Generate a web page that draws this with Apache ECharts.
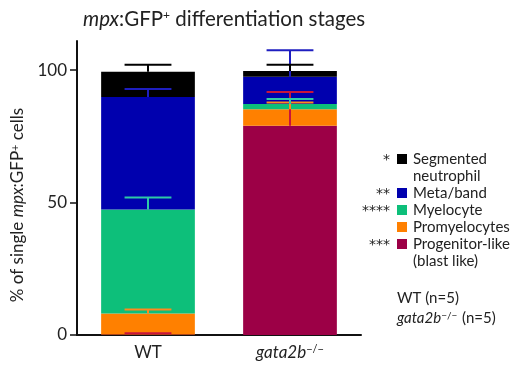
<!DOCTYPE html>
<html>
<head>
<meta charset="utf-8">
<script src="https://cdn.jsdelivr.net/npm/echarts@6/dist/echarts.min.js"></script>
<style>
  html, body { margin: 0; padding: 0; background: #fff; }
  #chart { width: 520px; height: 368px; }
</style>
</head>
<body>
<div id="chart"></div>
<script>
"use strict";

// groups on the x axis
const categories = ['WT', 'gata2b'];
// stages, bottom of the stack first
const stages = ['Progenitor-like', 'Promyelocytes', 'Myelocyte', 'Meta/band', 'Segmented neutrophil'];
const stageColors = ['#9C0046', '#FF8000', '#0DBF7A', '#0000AE', '#000000'];
const errColors = ['#C8143C', '#FF8A1E', '#2EC9A6', '#1E1EC0', '#000000'];
// mean % per stage (same order as stages)
const wtValues = [0.2, 7.9, 39.3, 42.5, 9.5];
const gataValues = [79.0, 6.2, 2.0, 10.3, 2.2];
// upper error (SD) per stage
const wtErrors = [0.5, 1.5, 4.5, 3.0, 2.6];
const gataErrors = [12.7, 2.6, 1.9, 10.0, 2.3];
const yTicks = [0, 50, 100];

// legend text, top to bottom
const legendRows = [
    { stage: 4, star: '*', lines: ['Segmented', 'neutrophil'] },
    { stage: 3, star: '**', lines: ['Meta/band'] },
    { stage: 2, star: '****', lines: ['Myelocyte'] },
    { stage: 1, star: '', lines: ['Promyelocytes'] },
    { stage: 0, star: '***', lines: ['Progenitor-like', '(blast like)'] }
];

const font = 'Lato, "DejaVu Sans", sans-serif';

let chart = echarts.init(document.getElementById('chart'));

// stacked tops for the error bars
let tops = [[], []];
let wtSum = 0, gataSum = 0;
for (let i = 0; i < stages.length; i++) {
    wtSum += wtValues[i];
    gataSum += gataValues[i];
    tops[0].push(wtSum);
    tops[1].push(gataSum);
}

let series = [];
stages.forEach((name, i) => {
    series.push({
        name: name,
        type: 'bar',
        stack: 'total',
        barWidth: '66%',
        itemStyle: { color: stageColors[i] },
        data: [wtValues[i], gataValues[i]],
        z: 2
    });
});
stages.forEach((name, i) => {
    series.push({
        name: name + ' SD',
        type: 'custom',
        z: 5,
        encode: { x: 0, y: 1 },
        data: [[0, tops[0][i], wtErrors[i]], [1, tops[1][i], gataErrors[i]]],
        renderItem: (params, api) => {
            const x = api.value(0), top = api.value(1), err = api.value(2);
            const p0 = api.coord([x, top]);
            const p1 = api.coord([x, top + err]);
            const half = api.size([1, 0])[0] * 0.165;
            const style = { stroke: errColors[i], lineWidth: 2 };
            return {
                type: 'group',
                children: [
                    { type: 'line', shape: { x1: p0[0], y1: p0[1], x2: p1[0], y2: p1[1] }, style: style },
                    { type: 'line', shape: { x1: p1[0] - half, y1: p1[1], x2: p1[0] + half, y2: p1[1] }, style: style }
                ]
            };
        }
    });
});

// legend drawn by hand (square aligned with first text line)
let graphics = [];
let ly = 159;
legendRows.forEach((row) => {
    graphics.push({
        type: 'rect', left: 397, top: ly - 5,
        shape: { width: 10, height: 10 },
        style: { fill: stageColors[row.stage] }
    });
    if (row.star) {
        graphics.push({
            type: 'text', x: 390, y: ly + 1,
            style: { text: row.star, fill: '#222', font: '14px "DejaVu Sans", sans-serif', align: 'right', verticalAlign: 'middle' }
        });
    }
    row.lines.forEach((t, k) => {
        graphics.push({
            type: 'text', x: 413, y: ly + k * 17,
            style: { text: t, fill: '#222', font: '15px ' + font, verticalAlign: 'middle' }
        });
    });
    ly += 17 + (row.lines.length - 1) * 17;
});
graphics.push({
    type: 'text', x: 397, y: 298,
    style: { text: 'WT (n=5)', fill: '#222', font: '15px ' + font, verticalAlign: 'middle' }
});
graphics.push({
    type: 'text', x: 397, y: 318,
    style: {
        text: '{i|gata2b}{s|−/−} (n=5)', fill: '#222', font: '15px ' + font, verticalAlign: 'middle',
        rich: {
            i: { fontStyle: 'italic', fontSize: 15, fontFamily: font },
            s: { fontSize: 10, fontFamily: font, verticalAlign: 'top', padding: [0, 1, 0, 0] }
        }
    }
});
// y axis title
graphics.push({
    type: 'text', x: 18, y: 205, rotation: Math.PI / 2,
    style: {
        text: '% of single {i|mpx}:GFP{s|+} cells', fill: '#222', font: '17px ' + font,
        align: 'center', verticalAlign: 'middle',
        rich: {
            i: { fontStyle: 'italic', fontSize: 17, fontFamily: font },
            s: { fontSize: 11, fontFamily: font, verticalAlign: 'top' }
        }
    }
});

let option = {
    animation: false,
    backgroundColor: '#fff',
    title: {
        text: '{i|mpx}:GFP{s|+} differentiation stages',
        left: 78, top: 4,
        textStyle: {
            fontFamily: font, fontSize: 20.5, fontWeight: 'normal', color: '#222',
            rich: {
                i: { fontStyle: 'italic', fontSize: 20.5, fontFamily: font },
                s: { fontSize: 12, fontFamily: font, verticalAlign: 'top' }
            }
        }
    },
    grid: { left: 77, right: 159, top: 41, bottom: 33, containLabel: false },
    xAxis: {
        type: 'category',
        data: categories,
        axisLine: { lineStyle: { color: '#111', width: 2 } },
        axisTick: { alignWithLabel: true, length: 5, lineStyle: { color: '#111', width: 1.5 } },
        axisLabel: {
            interval: 0,
            margin: 9, color: '#222', fontSize: 17, fontFamily: font,
            formatter: (v) => v === 'gata2b' ? '{i|gata2b}{s|−/−}' : v,
            rich: {
                i: { fontStyle: 'italic', fontSize: 17, fontFamily: font, color: '#222' },
                s: { fontSize: 11, fontFamily: font, color: '#222', verticalAlign: 'top' }
            }
        }
    },
    yAxis: {
        type: 'value',
        min: 0, max: 111, interval: 50,
        splitLine: { show: false },
        axisLine: { show: true, lineStyle: { color: '#111', width: 2 } },
        axisTick: { show: true, length: 7, customValues: yTicks, lineStyle: { color: '#111', width: 1.5 } },
        axisLabel: { margin: 10, color: '#222', fontSize: 17, fontFamily: font, customValues: yTicks }
    },
    graphic: graphics,
    series: series
};

chart.setOption(option);
</script>
</body>
</html>
